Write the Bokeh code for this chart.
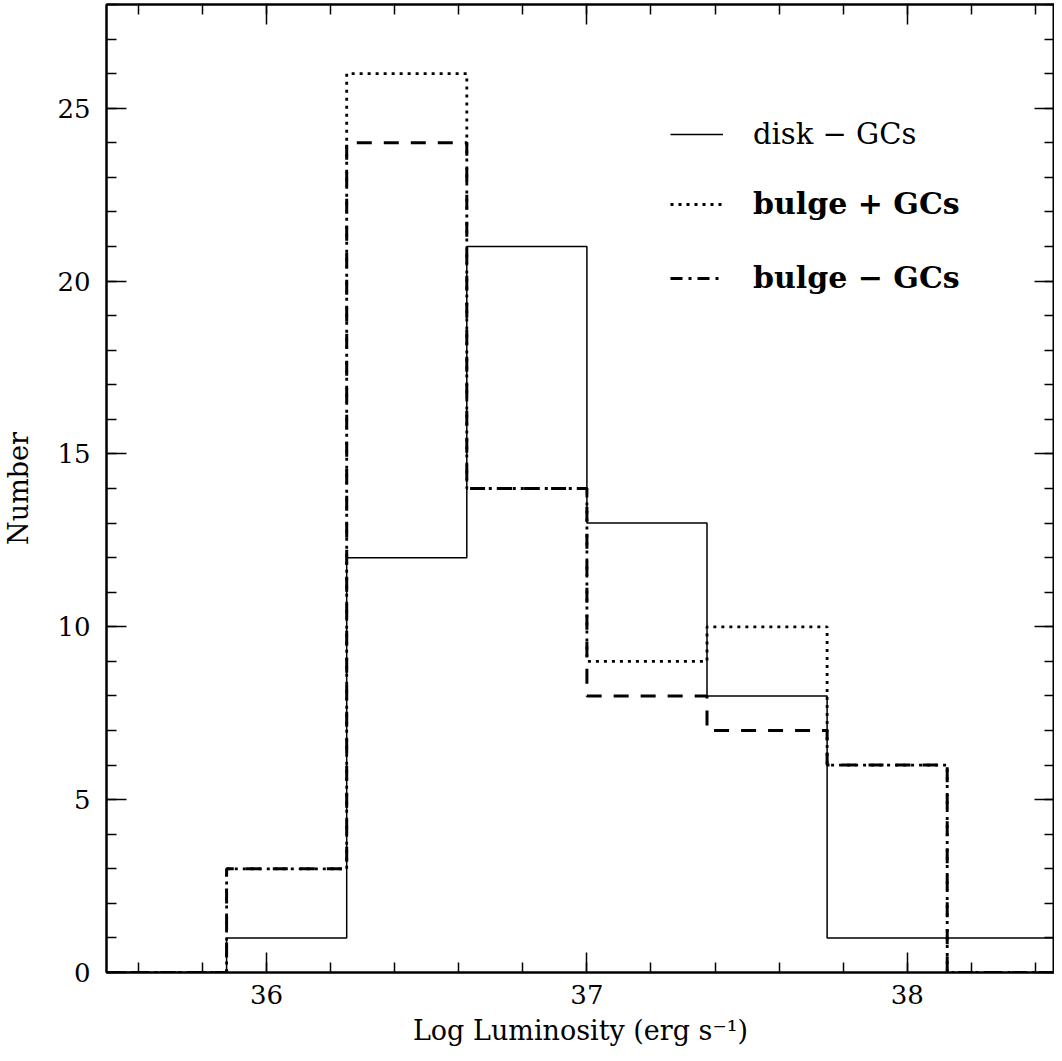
from bokeh.plotting import figure
from bokeh.models import LinearAxis, FixedTicker, Range1d, Legend, LegendItem
from bokeh.embed import file_html
from bokeh.resources import INLINE

# ---- data ----
bin_edges = [35.5, 35.875, 36.25, 36.625, 37.0, 37.375, 37.75, 38.125, 38.5]
disk_minus_gcs = [0, 1, 12, 21, 13, 8, 1, 1]
bulge_plus_gcs = [0, 3, 26, 14, 9, 10, 6, 0]
bulge_minus_gcs = [0, 3, 24, 14, 8, 7, 6, 0]

x_major_ticks = [36, 37, 38]
x_minor_ticks = [35.6, 35.8, 36.0, 36.2, 36.4, 36.6, 36.8, 37.0, 37.2, 37.4,
                 37.6, 37.8, 38.0, 38.2, 38.4]
y_major_ticks = [0, 5, 10, 15, 20, 25]
y_minor_ticks = list(range(0, 29))

labels = ["disk \u2212 GCs", "bulge + GCs", "bulge \u2212 GCs"]
x_label = "Log Luminosity (erg s\u207b\u00b9)"
y_label = "Number"

FONT = "DejaVu Serif"

p = figure(width=1054, height=1048,
           x_range=Range1d(35.5, 38.46), y_range=Range1d(0, 28),
           output_backend="svg", toolbar_location=None,
           min_border_left=95, min_border_right=0,
           min_border_top=4, min_border_bottom=0)
p.xgrid.visible = False
p.ygrid.visible = False
p.outline_line_color = "black"
p.outline_line_width = 2
p.background_fill_color = "white"
p.border_fill_color = "white"

xt = FixedTicker(ticks=x_major_ticks, minor_ticks=x_minor_ticks)
yt = FixedTicker(ticks=y_major_ticks, minor_ticks=y_minor_ticks)


def style_axis(ax, show_labels):
    ax.axis_line_color = "black"
    ax.axis_line_width = 2
    ax.major_tick_in = 20
    ax.major_tick_out = 0
    ax.minor_tick_in = 10
    ax.minor_tick_out = 0
    ax.major_tick_line_width = 1.5
    ax.minor_tick_line_width = 1.5
    ax.major_tick_line_color = "black"
    ax.minor_tick_line_color = "black"
    if show_labels:
        ax.major_label_text_font = FONT
        ax.major_label_text_font_size = "26px"
        ax.major_label_text_color = "black"
        ax.axis_label_text_font = FONT
        ax.axis_label_text_font_size = "27px"
        ax.axis_label_text_font_style = "normal"
        ax.axis_label_text_color = "black"
    else:
        ax.major_label_text_font_size = "0px"
        ax.major_label_text_color = None
        ax.major_label_text_alpha = 0
        ax.major_label_standoff = 0
        ax.axis_label = None


xa = p.xaxis[0]
xa.ticker = xt
style_axis(xa, True)
xa.major_label_standoff = 12
xa.axis_label = x_label
xa.axis_label_standoff = 8

ya = p.yaxis[0]
ya.ticker = yt
style_axis(ya, True)
ya.major_label_standoff = 16
ya.axis_label = y_label
ya.axis_label_standoff = 20

top = LinearAxis(ticker=xt)
style_axis(top, False)
p.add_layout(top, "above")
right = LinearAxis(ticker=yt)
style_axis(right, False)
p.add_layout(right, "right")

# ---- histograms as steps ----
r_disk = p.step(bin_edges, disk_minus_gcs + disk_minus_gcs[-1:], mode="after",
                line_color="black", line_width=1.5)
r_bplus = p.step(bin_edges, bulge_plus_gcs + bulge_plus_gcs[-1:], mode="after",
                 line_color="black", line_width=2.8, line_dash="3 5")
r_bminus = p.step(bin_edges, bulge_minus_gcs + bulge_minus_gcs[-1:], mode="after",
                  line_color="black", line_width=3, line_dash="15 12")
# legend-only proxy for the dash-dot sample (draws nothing in the plot area)
r_proxy = p.line(x=bin_edges, y=[float("nan")] * len(bin_edges),
                 line_color="black", line_width=3, line_dash="12 6 3 6")


def make_legend(items, loc, bold, size):
    leg = Legend(items=items, location=loc)
    leg.label_text_font = FONT
    leg.label_text_font_size = size
    leg.label_text_font_style = "bold" if bold else "normal"
    leg.label_text_color = "black"
    leg.glyph_width = 53
    leg.glyph_height = 32
    leg.label_height = 32
    leg.label_standoff = 30
    leg.spacing = 39
    leg.padding = 0
    leg.margin = 0
    leg.border_line_color = None
    leg.background_fill_alpha = 0
    return leg


leg1 = make_legend([LegendItem(label=labels[0], renderers=[r_disk])], (564, 821), False, "29px")
leg2 = make_legend([LegendItem(label=labels[1], renderers=[r_bplus]),
                    LegendItem(label=labels[2], renderers=[r_proxy])], (564, 677), True, "30px")
p.add_layout(leg1)
p.add_layout(leg2)

open("out.html", "w").write(file_html(p, INLINE))
